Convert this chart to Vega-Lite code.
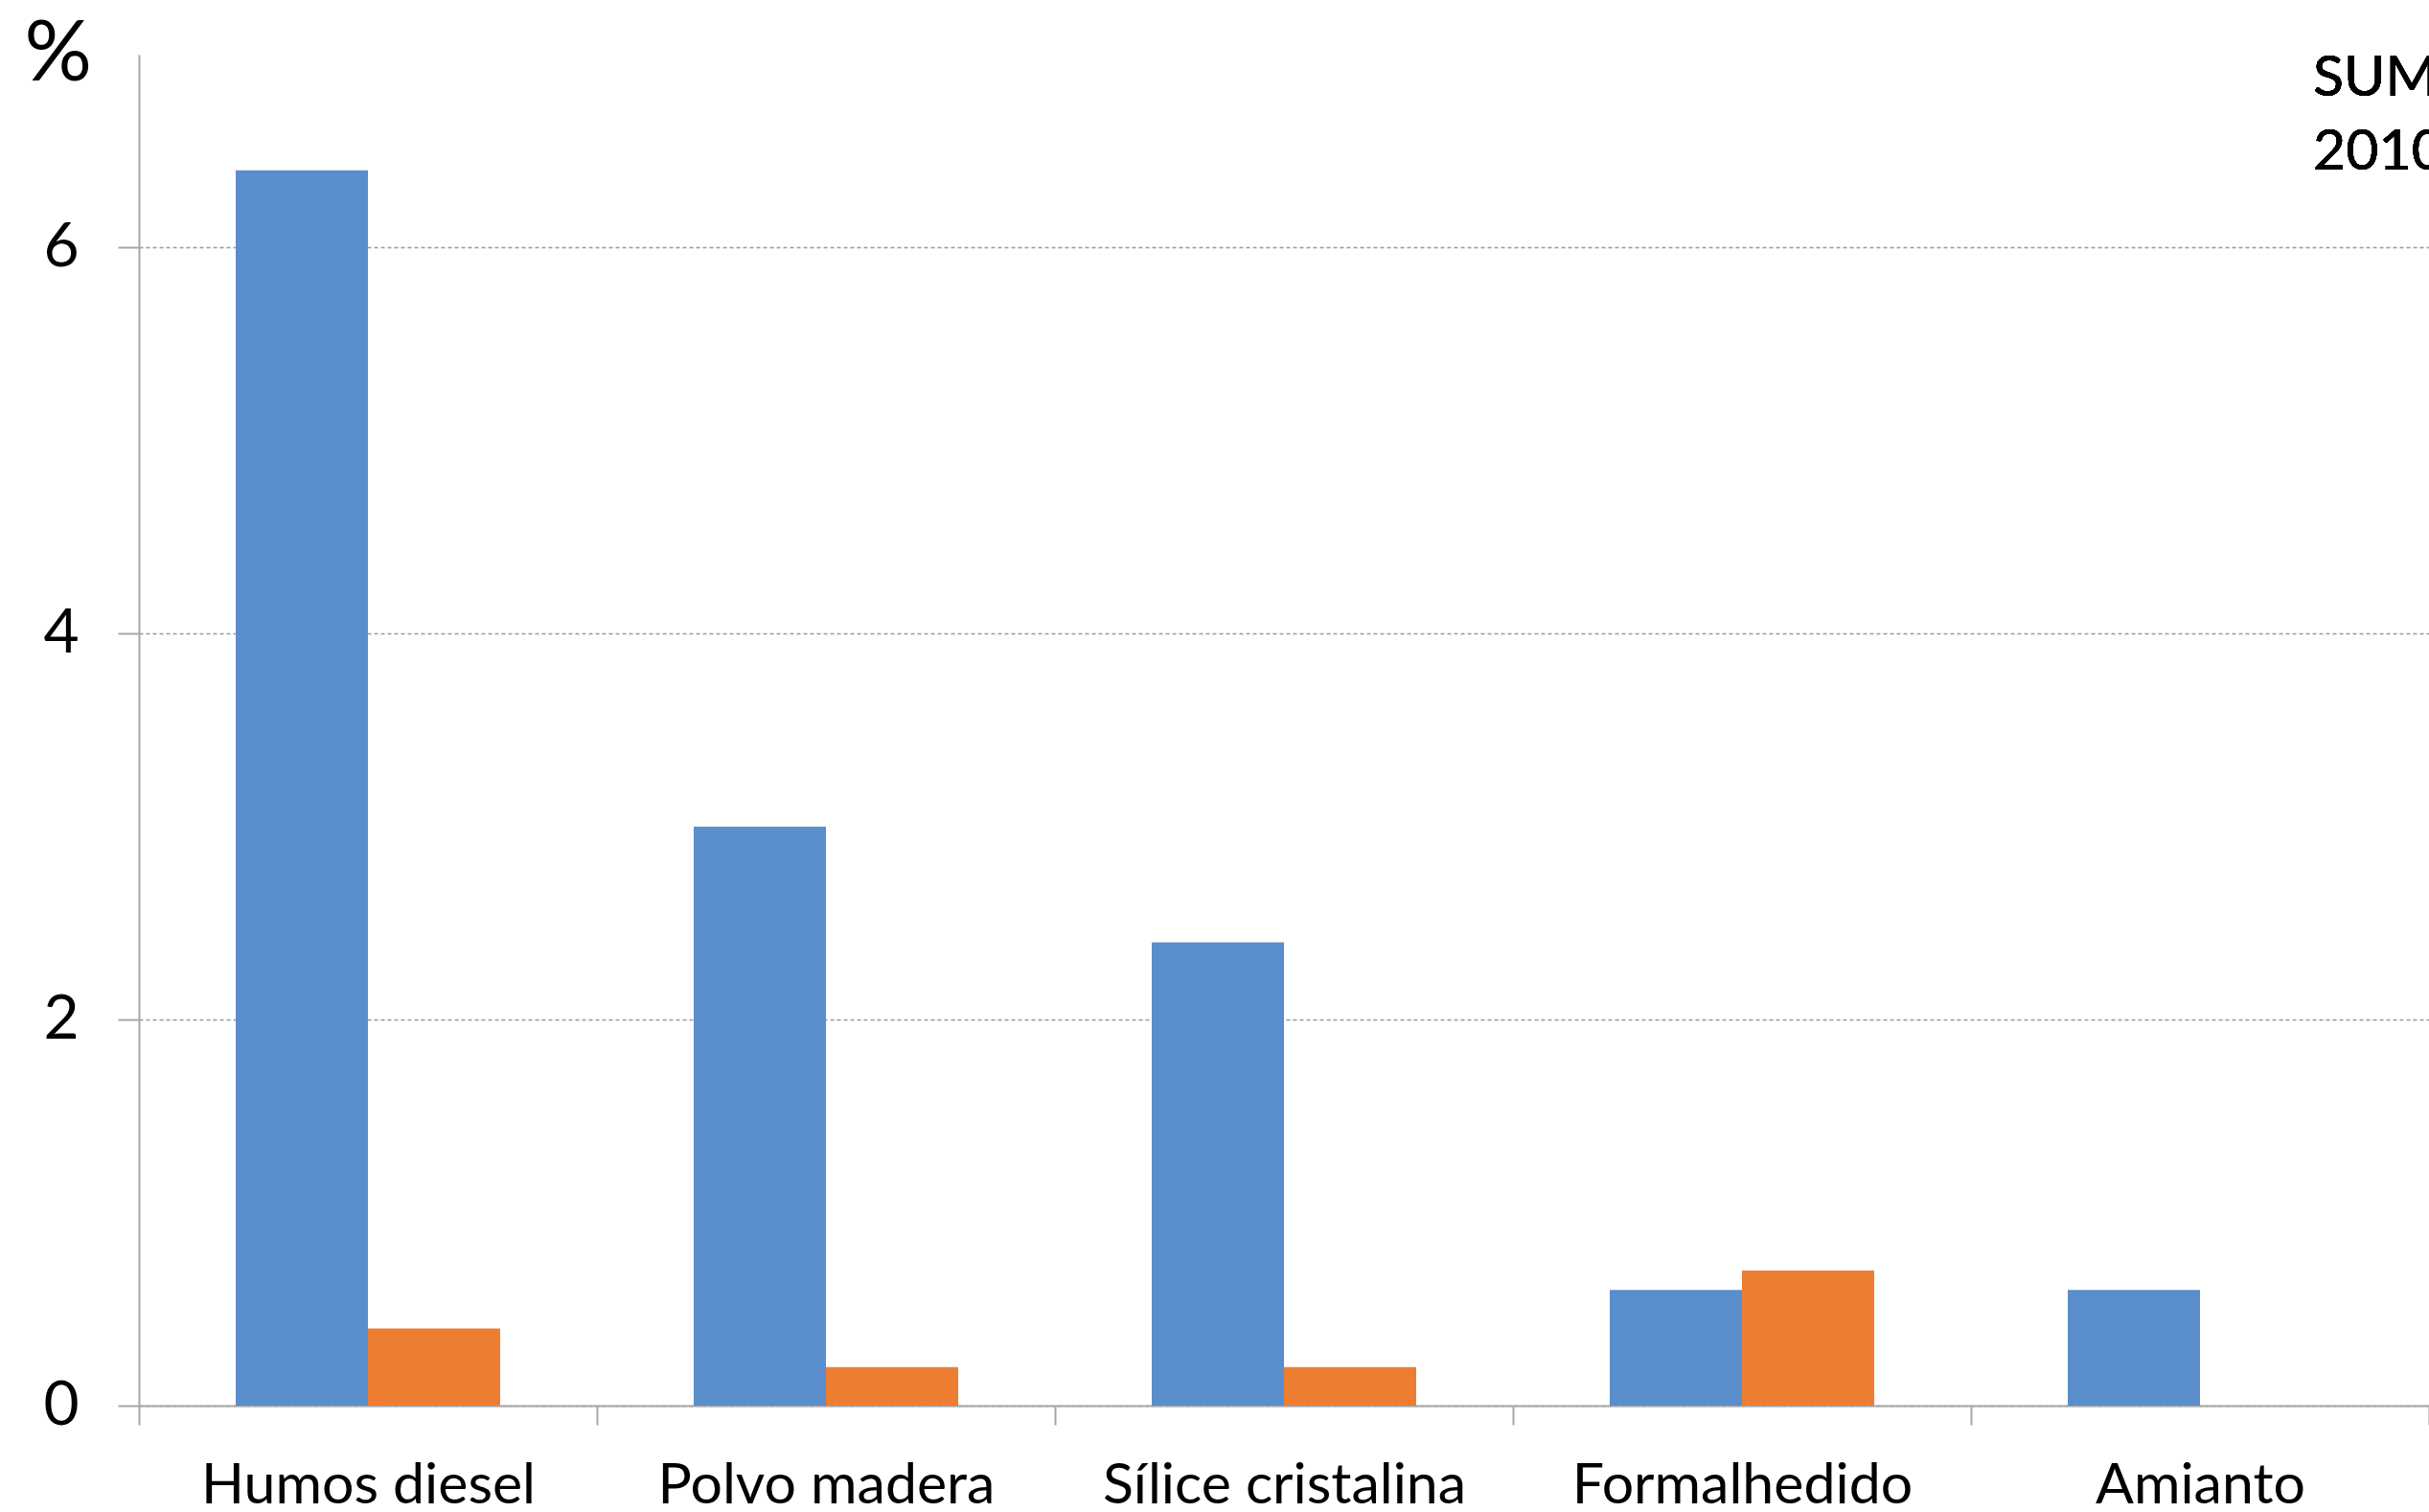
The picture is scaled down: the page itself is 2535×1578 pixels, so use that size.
{
  "$schema": "https://vega.github.io/schema/vega-lite/v6.json",
  "width": 2390,
  "height": 1410,
  "autosize": {"type": "none"},
  "padding": {"left": 145, "top": 57, "right": 0, "bottom": 111},
  "background": "white",
  "config": {
    "view": {"stroke": null},
    "font": "Lato",
    "axis": {"labelFont": "Lato", "titleFont": "Lato", "labelColor": "#000000", "titleColor": "#000000"}
  },
  "data": {
    "values": [
      {"agente": "Humos diesel", "grupo": "Hombres", "pct": 6.4},
      {"agente": "Humos diesel", "grupo": "Mujeres", "pct": 0.4},
      {"agente": "Polvo madera", "grupo": "Hombres", "pct": 3.0},
      {"agente": "Polvo madera", "grupo": "Mujeres", "pct": 0.2},
      {"agente": "Sílice cristalina", "grupo": "Hombres", "pct": 2.4},
      {"agente": "Sílice cristalina", "grupo": "Mujeres", "pct": 0.2},
      {"agente": "Formalhedido", "grupo": "Hombres", "pct": 0.6},
      {"agente": "Formalhedido", "grupo": "Mujeres", "pct": 0.7},
      {"agente": "Amianto", "grupo": "Hombres", "pct": 0.6}
    ]
  },
  "encoding": {
    "x": {
      "field": "agente",
      "type": "nominal",
      "sort": null,
      "scale": {"paddingInner": 0, "paddingOuter": 0},
      "axis": {
        "title": null,
        "labelAngle": 0,
        "labelFontSize": 59,
        "labelLimit": 0,
        "labelBaseline": "alphabetic",
        "labelPadding": 81,
        "tickBand": "extent",
        "tickSize": 20,
        "tickColor": "#a6a6a6",
        "tickWidth": 2,
        "domainColor": "#a6a6a6",
        "domainWidth": 2,
        "grid": false
      }
    }
  },
  "layer": [
    {
      "mark": {"type": "bar"},
      "encoding": {
        "xOffset": {"field": "grupo", "type": "nominal", "scale": {"paddingInner": 0, "paddingOuter": 0.732}},
        "y": {
          "field": "pct",
          "type": "quantitative",
          "scale": {"domain": [0, 7], "nice": false},
          "axis": {
            "values": [0, 2, 4, 6],
            "format": "d",
            "title": "%",
            "titleAngle": 0,
            "titleFontSize": 88,
            "titleFontWeight": "normal",
            "titleAlign": "left",
            "titleBaseline": "alphabetic",
            "titleX": -120,
            "titleY": 26,
            "labelFontSize": 64,
            "labelPadding": 41,
            "tickSize": 22,
            "tickColor": "#a6a6a6",
            "tickWidth": 2,
            "domainColor": "#a6a6a6",
            "domainWidth": 2,
            "grid": true,
            "gridColor": "#999999",
            "gridWidth": 1.5,
            "gridDash": [4, 3]
          }
        },
        "color": {
          "field": "grupo",
          "type": "nominal",
          "scale": {"domain": ["Hombres", "Mujeres"], "range": ["#5A8DCB", "#ED7D31"]},
          "legend": null
        }
      }
    },
    {
      "mark": {
        "type": "text",
        "text": ["SUMER", "2010"],
        "align": "left",
        "baseline": "alphabetic",
        "fontSize": 59,
        "lineHeight": 77,
        "dx": 118,
        "color": "#000000"
      },
      "encoding": {
        "x": {"datum": "Amianto"},
        "y": {"datum": 6.786}
      }
    }
  ]
}
